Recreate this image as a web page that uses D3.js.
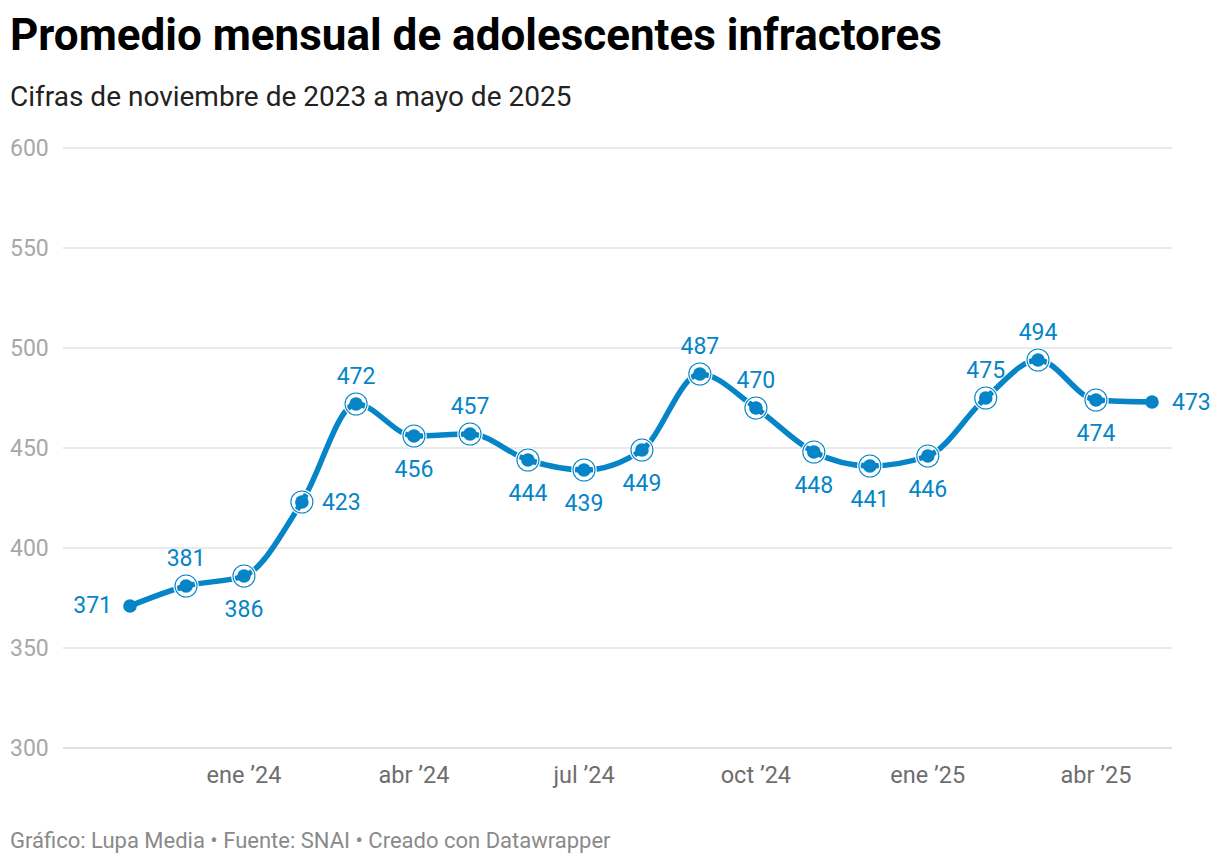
<!DOCTYPE html>
<html><head><meta charset="utf-8">
<script src="https://cdn.jsdelivr.net/npm/d3@7"></script>
<style>
html,body{margin:0;padding:0;background:#fff;}
text{font-family:Roboto,"Noto Sans",sans-serif;}
</style></head>
<body>
<svg id="chart" width="1220" height="864"></svg>
<script>
const months = ["2023-11","2023-12","2024-01","2024-02","2024-03","2024-04","2024-05","2024-06","2024-07","2024-08","2024-09","2024-10","2024-11","2024-12","2025-01","2025-02","2025-03","2025-04","2025-05"];
const values = [371,381,386,423,472,456,457,444,439,449,487,470,448,441,446,475,494,474,473];
const labelSide = ["l","t","b","r","t","b","t","b","b","b","t","t","b","b","b","t","t","b","r"];
const yTicks = [300,350,400,450,500,550,600];
const xTickDates = ["2024-01","2024-04","2024-07","2024-10","2025-01","2025-04"];
const xTickLabels = ["ene ’24","abr ’24","jul ’24","oct ’24","ene ’25","abr ’25"];

const blue = "#0585c8";
const parse = d3.timeParse("%Y-%m");
const data = months.map((m,i)=>({date:parse(m), value:values[i], side:labelSide[i]}));

const svg = d3.select("#chart");
const x = d3.scaleTime().domain([parse(months[0]), parse(months[months.length-1])]).range([130,1152]);
const y = d3.scaleLinear().domain([300,600]).range([748,148]);

// title
svg.append("text").attr("x",10).attr("y",50).attr("font-size",44).attr("font-weight",700).attr("fill","#000")
  .text("Promedio mensual de adolescentes infractores");
svg.append("text").attr("x",10).attr("y",106).attr("font-size",28).attr("fill","#222")
  .text("Cifras de noviembre de 2023 a mayo de 2025");

// grid
const grid = svg.append("g");
yTicks.forEach(t=>{
  grid.append("line").attr("x1", 63).attr("x2",1172).attr("y1",y(t)).attr("y2",y(t))
    .attr("stroke", t===300 ? "#d6d6d6" : "#e2e2e2").attr("stroke-width",t===300?1.6:1.3);
  grid.append("text").attr("x",10).attr("y",y(t)).attr("dy","0.35em").attr("font-size",23).attr("fill","#a8a8a8").text(t);
});

// x axis labels
xTickDates.forEach((d,i)=>{
  svg.append("text").attr("x",x(parse(d))).attr("y",783).attr("text-anchor","middle").attr("font-size",23.5).attr("fill","#6e6e6e").text(xTickLabels[i]);
});

// line
const line = d3.line().x(d=>x(d.date)).y(d=>y(d.value)).curve(d3.curveMonotoneX);
svg.append("path").datum(data).attr("d",line).attr("fill","none").attr("stroke",blue).attr("stroke-width",5.5).attr("stroke-linecap","round");

// markers
const pts = svg.append("g");
data.forEach((d,i)=>{
  const cx=x(d.date), cy=y(d.value);
  if(i>0 && i<data.length-1){
    pts.append("circle").attr("cx",cx).attr("cy",cy).attr("r",11).attr("fill","none").attr("stroke","#fff").attr("stroke-width",3.5);
    pts.append("circle").attr("cx",cx).attr("cy",cy).attr("r",11).attr("fill","none").attr("stroke",blue).attr("stroke-width",1.1);
  }
  pts.append("circle").attr("cx",cx).attr("cy",cy).attr("r",6.8).attr("fill",blue);
});

// labels
const labs = svg.append("g");
data.forEach(d=>{
  const cx=x(d.date), cy=y(d.value);
  const t = labs.append("text").attr("font-size",23).attr("fill",blue).attr("dy","0.35em").text(d.value);
  if(d.side==="t") t.attr("x",cx).attr("y",cy-28).attr("text-anchor","middle");
  else if(d.side==="b") t.attr("x",cx).attr("y",cy+33).attr("text-anchor","middle");
  else if(d.side==="l") t.attr("x",cx-18).attr("y",cy-1).attr("text-anchor","end");
  else t.attr("x",cx+20).attr("y",cy).attr("text-anchor","start");
});
// footer
svg.append("text").attr("x",10).attr("y",848).attr("font-size",22).attr("fill","#8a8a8a")
  .text("Gráfico: Lupa Media • Fuente: SNAI • Creado con Datawrapper");
</script>
</body></html>
